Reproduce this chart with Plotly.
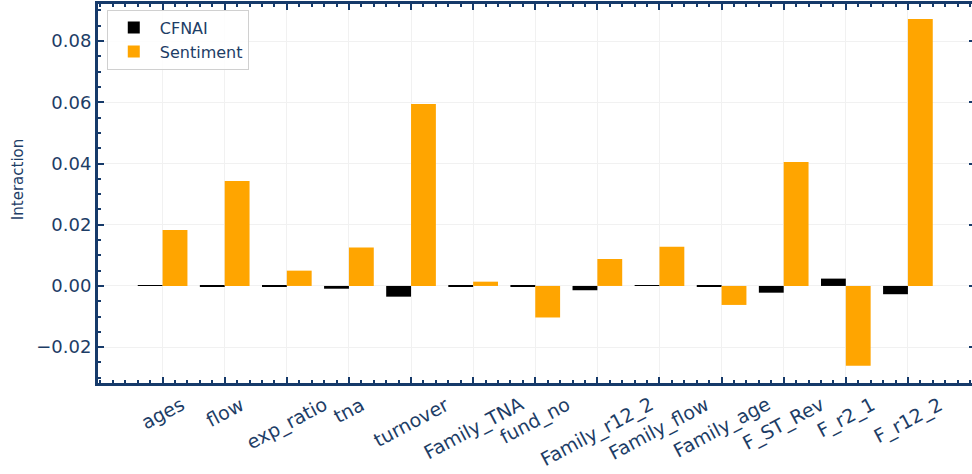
import plotly.graph_objects as go

categories = ["ages", "flow", "exp_ratio", "tna", "turnover", "Family_TNA", "fund_no",
              "Family_r12_2", "Family_flow", "Family_age", "F_ST_Rev", "F_r2_1", "F_r12_2"]
cfnai = [0.0003, -0.0003, -0.0002, -0.0009, -0.0035, -0.0001, -0.0001,
         -0.0014, 0.0001, -0.0001, -0.0022, 0.0024, -0.0027]
sentiment = [0.0183, 0.0343, 0.0050, 0.0126, 0.0594, 0.0014, -0.0103,
             0.0088, 0.0128, -0.0062, 0.0405, -0.0261, 0.0872]
y_ticks = [-0.02, 0.0, 0.02, 0.04, 0.06, 0.08]
y_ticktext = ["\u22120.02", "0.00", "0.02", "0.04", "0.06", "0.08"]

NAVY = "#163a6a"
TEXT = "#1d3d66"
FONT = "DejaVu Sans"

idx = list(range(len(categories)))

fig = go.Figure()
fig.add_trace(go.Bar(x=idx, y=cfnai, name="CFNAI", marker=dict(color="#000000", line=dict(width=0))))
fig.add_trace(go.Bar(x=idx, y=sentiment, name="Sentiment", marker=dict(color="#FFA500", line=dict(width=0))))

annotations = []
for i, c in enumerate(categories):
    annotations.append(dict(x=i, y=0, xref="x", yref="paper", text=c, showarrow=False,
                            textangle=-28, xanchor="center", yanchor="top", yshift=-7,
                            font=dict(family=FONT, size=19, color=TEXT)))
annotations.append(dict(x=-0.0909, y=0.536, xref="paper", yref="paper", text="Interaction",
                        showarrow=False, textangle=-90, xanchor="center", yanchor="middle",
                        font=dict(family=FONT, size=15, color=TEXT)))

fig.update_layout(
    width=978, height=474,
    margin=dict(l=98, r=0, t=4, b=91),
    paper_bgcolor="white", plot_bgcolor="white",
    barmode="group", bargap=0.2, bargroupgap=0,
    font=dict(family=FONT, color=TEXT, size=17),
    showlegend=True,
    legend=dict(x=0.01, y=0.985, xanchor="left", yanchor="top", itemwidth=42,
                bgcolor="rgba(255,255,255,0.85)", bordercolor="#d0d0d0", borderwidth=1,
                font=dict(family=FONT, size=16, color=TEXT), traceorder="normal"),
    annotations=annotations,
)
fig.update_xaxes(
    range=[-1.04, 13.08], tickmode="array", tickvals=idx, ticktext=[""] * len(idx),
    showline=True, linecolor=NAVY, linewidth=3, mirror="ticks",
    ticks="inside", ticklen=6, tickwidth=1.5, tickcolor=NAVY,
    minor=dict(ticks="inside", ticklen=3, tickcolor=NAVY, dtick=0.2, tick0=0, showgrid=False),
    showgrid=True, gridcolor="#f1f1f1", gridwidth=1, zeroline=False,
)
fig.update_yaxes(
    range=[-0.0317, 0.0921], tickmode="array", tickvals=y_ticks, ticktext=y_ticktext,
    showline=True, linecolor=NAVY, linewidth=3, mirror="ticks",
    ticks="inside", ticklen=6, tickwidth=1.5, tickcolor=NAVY,
    minor=dict(ticks="inside", ticklen=3, tickcolor=NAVY, dtick=0.005, tick0=0, showgrid=False),
    showgrid=True, gridcolor="#f1f1f1", gridwidth=1, zeroline=False,
    tickfont=dict(family=FONT, size=18, color=TEXT),
)

fig.write_html("out.html", config={"displayModeBar": False},
               post_script="document.body.style.margin='0px';document.body.style.overflow='hidden';")
